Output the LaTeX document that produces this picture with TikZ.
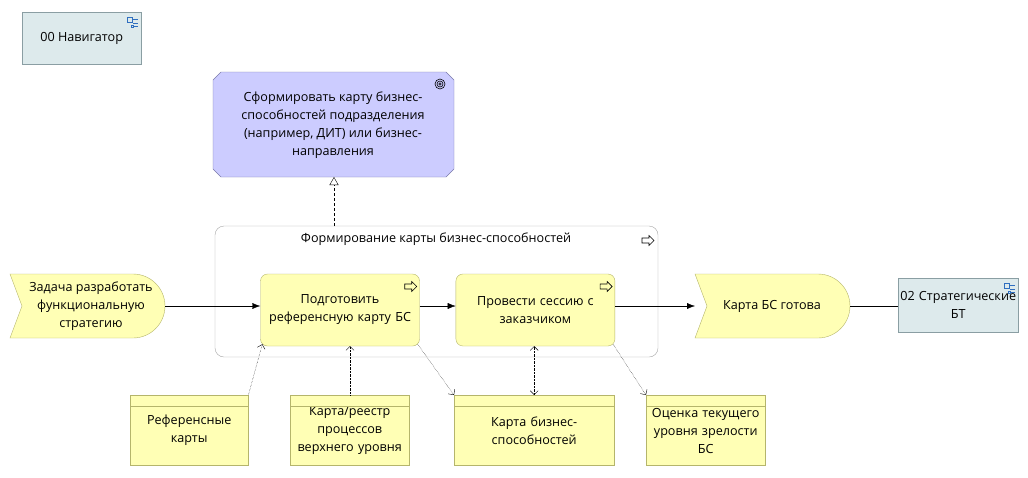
\documentclass[tikz,border=0pt]{standalone}
\usepackage{fontspec}
\setmainfont{Open Sans}
\usetikzlibrary{arrows.meta,calc,positioning}
\definecolor{procfill}{HTML}{FFFFB5}
\definecolor{procline}{HTML}{B5B56B}
\definecolor{goalfill}{HTML}{CCCCFF}
\definecolor{goalline}{HTML}{7A7AAA}
\definecolor{navfill}{HTML}{DDEAEC}
\definecolor{navline}{HTML}{8A9EA3}
\definecolor{iconblue}{HTML}{2F6FC0}

\begin{document}
\begin{tikzpicture}[x=1pt,y=-1pt,>={Latex[length=8pt,width=6pt]},
  every node/.style={font=\fontsize{12.6}{18}\selectfont,align=center,inner sep=2pt},
  proc/.style={draw=procline,fill=procfill,rounded corners=7pt,minimum width=159pt,minimum height=72pt,text width=150pt},
  data/.style={draw=procline,fill=procfill,minimum height=70pt},
  nav/.style={draw=navline,fill=navfill},
  flow/.style={->,thin},
  access/.style={-{Straight Barb[open,length=4pt]},densely dotted,thin},
  real/.style={-{Triangle[open,length=8pt,width=9pt]},densely dashed,thin}]
\useasboundingbox (0,0) rectangle (1028,477);

% Navigator links
\node[nav,minimum width=119pt,minimum height=52pt,anchor=north west] (nav0) at (22,12) {00 Навигатор};
\node[nav,minimum width=120pt,minimum height=54pt,anchor=north west,text width=116pt] (nav2) at (898,278) {02 Стратегические\\БТ};
\foreach \n in {nav0,nav2}{
  \draw[iconblue,line width=0.6pt] ($(\n.north east)+(-14,5)$) rectangle ++(5,5)
    ($(\n.north east)+(-8,7)$) -- ++(5,0) ($(\n.north east)+(-8,11)$) -- ++(5,0)
    ($(\n.north east)+(-10,13)$) rectangle ++(2,2) ($(\n.north east)+(-7,14)$) -- ++(4,0);
}

% Goal
\draw[goalline,fill=goalfill] (221,72) -- (446,72) -- (454,80) -- (454,169) -- (446,177)
  -- (221,177) -- (213,169) -- (213,80) -- cycle;
\node (goal) at (333,125) {Сформировать карту бизнес-\\способностей подразделения\\(например, ДИТ) или бизнес-\\направления};
\foreach \r in {5,3,1.3} \draw[black,line width=0.6pt] (440,84) circle (\r);
\coordinate (goalb) at (334,177);

% Container
\draw[gray!70,fill=white,rounded corners=9pt] (215,226) rectangle (658,357);
\node (cont) at (436,239) {Формирование карты бизнес-способностей};
\coordinate (contt) at (334,226);

% Processes
\node[proc] (p1) at (340,310) {Подготовить\\референсную карту БС};
\node[proc,right=36pt of p1] (p2) {Провести сессию с\\заказчиком};
\newcommand\procicon[1]{\draw[line width=0.6pt] ($(#1)+(-15,0)$) -- ++(7,0) -- ++(0,-2.5) -- ++(5,5) -- ++(-5,5) -- ++(0,-2.5) -- ++(-7,0) -- cycle;}
\procicon{p1.north east|-0,284}
\procicon{p2.north east|-0,284}
\procicon{657,238}

% Events
\newcommand\eventshape[1]{\draw[procline,fill=procfill] (#1,274) -- (#1+123,274) arc(-90:90:32) -- (#1,338) -- (#1+12,306) -- cycle;}
\eventshape{10}
\node (e1) at (91,306) {Задача разработать\\функциональную\\стратегию};
\eventshape{695}
\node (e2) at (772,306) {Карта БС готова};
\coordinate (e1r) at (165,306);
\coordinate (e2l) at (695,306);
\coordinate (e2r) at (850,306);

% Data objects
\newcommand\dataobj[4]{\node[data,minimum width=#3pt,text width=#3pt-4pt,anchor=north west] (#1) at (#2,395) {\\[-8pt]#4};
  \draw[procline] ($(#1.north west)+(0,11)$) -- ($(#1.north east)+(0,11)$);}
\dataobj{d1}{130}{118}{Референсные\\карты}
\dataobj{d2}{290}{119}{Карта/реестр\\процессов\\верхнего уровня}
\dataobj{d3}{454}{160}{Карта бизнес-\\способностей}
\dataobj{d4}{646}{119}{Оценка текущего\\уровня зрелости\\БС}
\coordinate (p1in) at (350,346);

% Connectors
\draw[flow] (e1r) -- (p1.west|-e1r);
\draw[flow] (p1.east|-e1r) -- (p2.west|-e1r);
\draw[flow] (p2.east|-e1r) -- (e2l);
\draw (e2r) -- (nav2.west|-e2r);
\draw[real] (contt) -- (goalb);
\draw[access] (d1.north east) -- ($(p1.south west)+(2,-2)$);
\draw[access] (d2.north -| p1in) -- (p1in);
\draw[access] ($(p1.south east)+(-2,-2)$) -- (d3.north west);
\draw[access,{Straight Barb[open,length=4pt]}-{Straight Barb[open,length=4pt]}] (d3.north) -- (d3.north|-p2.south);
\draw[access] ($(p2.south east)+(-2,-2)$) -- (d4.north west);
\end{tikzpicture}
\end{document}
